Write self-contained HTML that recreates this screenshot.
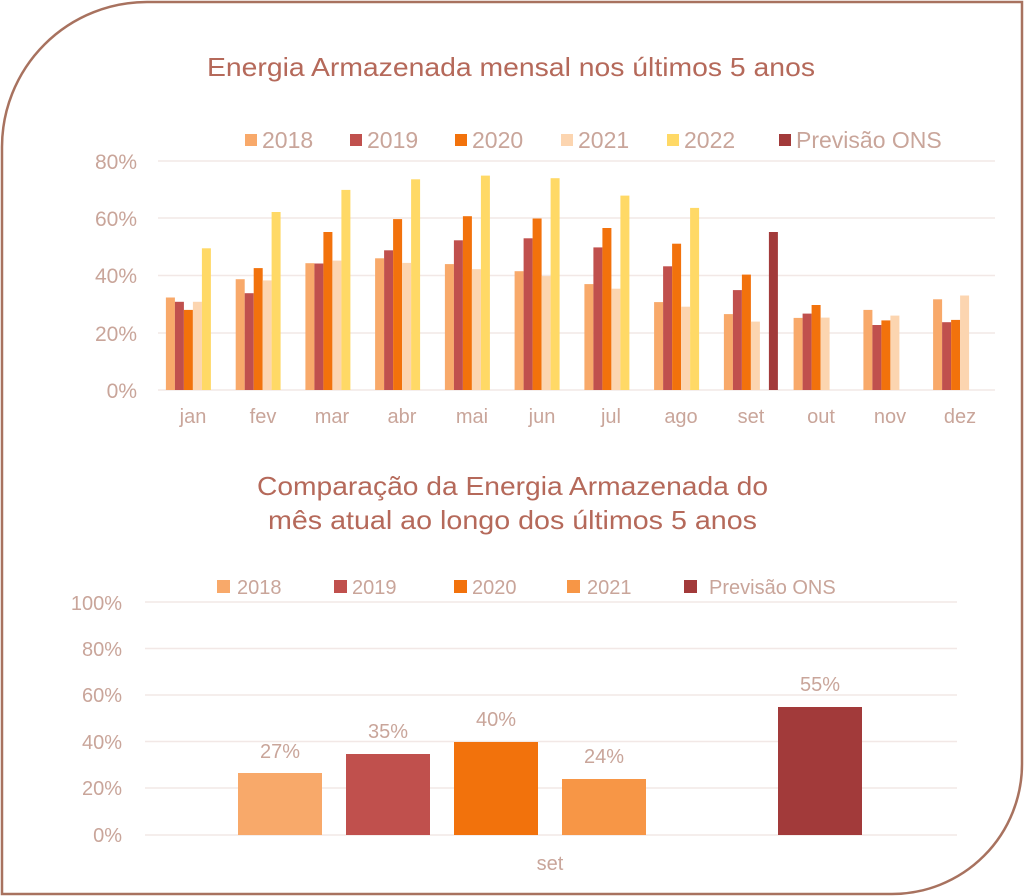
<!DOCTYPE html>
<html><head><meta charset="utf-8"><style>
body{margin:0;background:#fff;}
svg{display:block;}
text{font-family:"Liberation Sans",sans-serif;fill:#C9A59A;}
</style></head><body>
<svg id="s" width="1024" height="896" viewBox="0 0 1024 896" xmlns="http://www.w3.org/2000/svg">
<path d="M147,2 H1022 V764 A130,130 0 0 1 892,894 H2 V147 A145,145 0 0 1 147,2 Z" fill="#fff" stroke="#A8725F" stroke-width="2.5"/>
<text x="207" y="76" font-size="26" textLength="608" lengthAdjust="spacingAndGlyphs" style="fill:#B5695A">Energia Armazenada mensal nos últimos 5 anos</text>
<g font-size="23">
<rect x="245" y="134" width="12" height="12" fill="#F8A96A"/><text x="262" y="148">2018</text>
<rect x="350" y="134" width="12" height="12" fill="#C0504D"/><text x="367" y="148">2019</text>
<rect x="455" y="134" width="12" height="12" fill="#F2720C"/><text x="472" y="148">2020</text>
<rect x="561" y="134" width="12" height="12" fill="#FCD5B0"/><text x="578" y="148">2021</text>
<rect x="667" y="134" width="12" height="12" fill="#FFD966"/><text x="684" y="148">2022</text>
<rect x="779" y="134" width="12" height="12" fill="#A23A3A"/><text x="796" y="148">Previsão ONS</text>
</g>
<g font-size="21" text-anchor="end">
<text x="137" y="169">80%</text><text x="137" y="226">60%</text><text x="137" y="283">40%</text><text x="137" y="341">20%</text><text x="137" y="398">0%</text>
</g>
<g font-size="20" text-anchor="middle" id="months">
<text x="193" y="423">jan</text><text x="263" y="423">fev</text><text x="332" y="423">mar</text><text x="402" y="423">abr</text><text x="472" y="423">mai</text><text x="542" y="423">jun</text><text x="611" y="423">jul</text><text x="681" y="423">ago</text><text x="751" y="423">set</text><text x="821" y="423">out</text><text x="890" y="423">nov</text><text x="960" y="423">dez</text>
</g>
<g id="top"></g>
<text x="257" y="495" font-size="26" textLength="511" lengthAdjust="spacingAndGlyphs" style="fill:#B5695A">Comparação da Energia Armazenada do</text>
<text x="268" y="529" font-size="26" textLength="489" lengthAdjust="spacingAndGlyphs" style="fill:#B5695A">mês atual ao longo dos últimos 5 anos</text>
<g font-size="20">
<rect x="217" y="580" width="13" height="13" fill="#F8A96A"/><text x="237" y="594">2018</text>
<rect x="334" y="580" width="13" height="13" fill="#C0504D"/><text x="352" y="594">2019</text>
<rect x="454" y="580" width="13" height="13" fill="#F2720C"/><text x="472" y="594">2020</text>
<rect x="567" y="580" width="13" height="13" fill="#F79646"/><text x="587" y="594">2021</text>
<rect x="684" y="580" width="13" height="13" fill="#A23A3A"/><text x="709" y="594">Previsão ONS</text>
</g>
<g stroke="#F2E8E6" stroke-width="1.5">
<line x1="145" x2="957" y1="602" y2="602"/><line x1="145" x2="957" y1="648.5" y2="648.5"/><line x1="145" x2="957" y1="695" y2="695"/><line x1="145" x2="957" y1="741.5" y2="741.5"/><line x1="145" x2="957" y1="788" y2="788"/><line x1="145" x2="957" y1="835" y2="835"/>
</g>
<g font-size="20" text-anchor="end">
<text x="122" y="610">100%</text><text x="122" y="656">80%</text><text x="122" y="702">60%</text><text x="122" y="749">40%</text><text x="122" y="795">20%</text><text x="122" y="842">0%</text>
</g>
<rect x="238" y="773" width="84" height="62" fill="#F8A96A"/>
<rect x="346" y="754" width="84" height="81" fill="#C0504D"/>
<rect x="454" y="742" width="84" height="93" fill="#F2720C"/>
<rect x="562" y="779" width="84" height="56" fill="#F79646"/>
<rect x="778" y="707" width="84" height="128" fill="#A23A3A"/>
<g font-size="20" text-anchor="middle">
<text x="280" y="758">27%</text><text x="388" y="738">35%</text><text x="496" y="726">40%</text><text x="604" y="763">24%</text><text x="820" y="691">55%</text>
<text x="550" y="870">set</text>
</g>
</svg>
<script>
var d=[[32.3,30.8,28,30.8,49.5],[38.7,33.8,42.6,38.3,62.2],[44.3,44.2,55.2,45.2,69.9],[46,48.8,59.7,44.4,73.6],[44,52.3,60.7,42.2,74.9],[41.5,53,59.9,39.8,74],[37,49.8,56.6,35.4,67.9],[30.7,43.2,51.1,29.1,63.6],[26.5,34.9,40.3,23.9,null,55.2],[25.2,26.7,29.7,25.3],[28,22.7,24.3,26],[31.7,23.7,24.5,33]];
var c=["#F8A96A","#C0504D","#F2720C","#FCD5B0","#FFD966","#A23A3A"];
var g=document.getElementById("top"),h="";
[161,218,275.5,333,390].forEach(function(y){h+='<line x1="158" x2="995" y1="'+y+'" y2="'+y+'" stroke="#F2E8E6" stroke-width="1.5"/>';});
d.forEach(function(r,i){var x0=158+i*69.75+7.9;r.forEach(function(v,j){if(v==null)return;var hh=v*2.8625;h+='<rect x="'+(x0+j*9).toFixed(1)+'" y="'+(390-hh).toFixed(1)+'" width="9" height="'+hh.toFixed(1)+'" fill="'+c[j]+'"/>';});});
g.innerHTML=h;
</script>
</body></html>
